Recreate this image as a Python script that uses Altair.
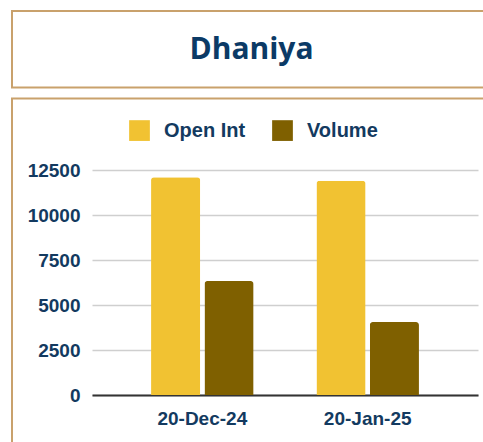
import altair as alt
import pandas as pd

# ---- data ----
dates = ["20-Dec-24", "20-Jan-25"]
series = ["Open Int", "Volume"]
open_int = [12100, 11900]
volume = [6330, 4050]
y_ticks = [0, 2500, 5000, 7500, 10000, 12500]
chart_title = "Dhaniya"
colors = ["#f1c232", "#7f6000"]

rows = []
for d, o, v in zip(dates, open_int, volume):
    rows.append({"date": d, "series": series[0], "value": o})
    rows.append({"date": d, "series": series[1], "value": v})
df = pd.DataFrame(rows)

TEXT = "#133a60"
BORDER = "#c9a16c"
LABEL_FONT = "Liberation Sans"

bars = alt.Chart(df).mark_bar(
    cornerRadiusTopLeft=3, cornerRadiusTopRight=3
).encode(
    x=alt.X(
        "date:N",
        sort=dates,
        scale=alt.Scale(paddingInner=0.38, paddingOuter=0.357),
        axis=alt.Axis(
            title=None, labelAngle=0, ticks=False, domain=True,
            domainColor="#333333", domainWidth=2, labelPadding=14,
            labelFont=LABEL_FONT, labelFontSize=19, labelFontWeight="bold",
            labelColor=TEXT, grid=False,
        ),
    ),
    xOffset=alt.XOffset("series:N", sort=series, scale=alt.Scale(paddingInner=0.08)),
    y=alt.Y(
        "value:Q",
        scale=alt.Scale(domain=[0, 12500], nice=False),
        axis=alt.Axis(
            title=None, values=y_ticks, ticks=False, domain=False,
            labelPadding=12, labelFont=LABEL_FONT, labelFontSize=19,
            labelFontWeight="bold", labelColor=TEXT, format="d",
            grid=True, gridColor="#cfcfcf", gridWidth=1.5,
        ),
    ),
    color=alt.Color(
        "series:N",
        sort=series,
        scale=alt.Scale(domain=series, range=colors),
        legend=alt.Legend(
            title=None, orient="none", direction="horizontal",
            legendX=37, legendY=-50, symbolType="square", symbolSize=430,
            symbolStrokeWidth=0, labelOffset=14, columnPadding=26,
            labelFont=LABEL_FONT, labelFontSize=20, labelFontWeight="bold",
            labelColor=TEXT,
        ),
    ),
)

one = alt.Data(values=[{"k": 1}])

box_title = alt.Chart(one).mark_rect(
    fill=None, stroke=BORDER, strokeWidth=2
).encode(
    x=alt.value(-80), x2=alt.value(420), y=alt.value(-159), y2=alt.value(-82.5)
)

box_chart = alt.Chart(one).mark_rect(
    fill=None, stroke=BORDER, strokeWidth=2
).encode(
    x=alt.value(-80), x2=alt.value(420), y=alt.value(-71.5), y2=alt.value(300)
)

title_text = alt.Chart(one).mark_text(
    font="Open Sans", fontSize=30, fontWeight="bold", color="#0b3a66",
    align="center", baseline="alphabetic"
).encode(
    x=alt.value(159.5), y=alt.value(-111), text=alt.value(chart_title)
)

chart = alt.layer(box_title, box_chart, bars, title_text).properties(
    width=386, height=225,
    autosize=alt.AutoSizeParams(type="none"),
    padding={"left": 92, "top": 170, "right": 5, "bottom": 47},
    background="white",
).configure_view(stroke=None)

chart.save("out.html", embed_options={"renderer": "svg", "actions": False})
